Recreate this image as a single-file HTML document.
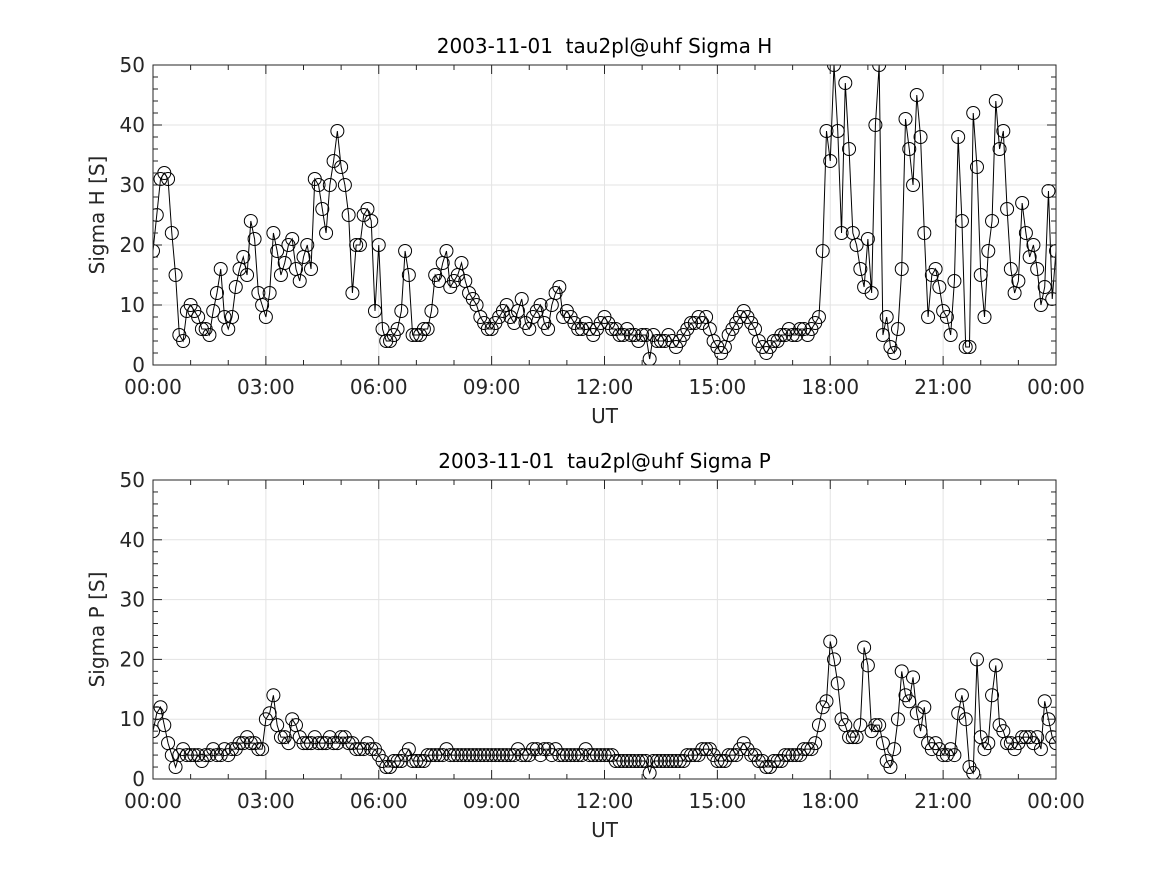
<!DOCTYPE html>
<html><head><meta charset="utf-8">
<style>
html,body{margin:0;padding:0;background:#fff;}
svg{display:block;font-family:"DejaVu Sans","Liberation Sans",sans-serif;}
</style></head>
<body>
<svg id="fig" width="1167" height="875" viewBox="0 0 1167 875" xmlns="http://www.w3.org/2000/svg">
<rect width="1167" height="875" fill="#fff"/>
</svg>
<script>
// Sample spacing: 0.1 hour, 241 samples (00:00 .. 24:00)
const sigmaH = [
19,25,31,32,31,22,15,5,4,9,
10,9,8,6,6,5,9,12,16,8,
6,8,13,16,18,15,24,21,12,10,
8,12,22,19,15,17,20,21,16,14,
18,20,16,31,30,26,22,30,34,39,
33,30,25,12,20,20,25,26,24,9,
20,6,4,4,5,6,9,19,15,5,
5,5,6,6,9,15,14,17,19,13,
14,15,17,14,12,11,10,8,7,6,
6,7,8,9,10,8,7,9,11,7,
6,8,9,10,7,6,10,12,13,8,
9,8,7,6,6,7,6,5,6,7,
8,7,6,6,5,5,6,5,5,4,
5,5,1,5,4,4,4,5,4,3,
4,5,6,7,7,8,7,8,6,4,
3,2,3,5,6,7,8,9,8,7,
6,4,3,2,3,4,4,5,5,6,
5,5,6,6,5,6,7,8,19,39,
34,55,39,22,47,36,22,20,16,13,
21,12,40,55,5,8,3,2,6,16,
41,36,30,45,38,22,8,15,16,13,
9,8,5,14,38,24,3,3,42,33,
15,8,19,24,44,36,39,26,16,12,
14,27,22,18,20,16,10,13,29,11,
19];
const sigmaP = [
8,11,12,9,6,4,2,4,5,4,
4,4,4,3,4,4,5,4,4,5,
4,5,5,6,6,7,6,6,5,5,
10,11,14,9,7,7,6,10,9,7,
6,6,6,7,6,6,6,7,6,6,
7,7,6,6,5,5,5,6,5,5,
4,3,2,2,3,3,3,4,5,3,
3,3,3,4,4,4,4,4,5,4,
4,4,4,4,4,4,4,4,4,4,
4,4,4,4,4,4,4,5,4,4,
4,5,5,4,5,5,4,5,4,4,
4,4,4,4,4,5,4,4,4,4,
4,4,4,3,3,3,3,3,3,3,
3,3,1,3,3,3,3,3,3,3,
3,3,4,4,4,4,5,5,5,4,
3,3,3,4,4,4,5,6,5,4,
4,3,3,2,2,3,3,3,4,4,
4,4,4,5,5,5,6,9,12,13,
23,20,16,10,9,7,7,7,9,22,
19,8,9,9,6,3,2,5,10,18,
14,13,17,11,8,12,6,5,6,5,
4,4,5,4,11,14,10,2,1,20,
7,5,6,14,19,9,8,6,6,5,
6,7,7,7,6,7,5,13,10,7,
6];
const xTickLabels = ["00:00","03:00","06:00","09:00","12:00","15:00","18:00","21:00","00:00"];
const yTickLabels = ["0","10","20","30","40","50"];
const titles = ["2003-11-01\u00a0 tau2pl@uhf Sigma H","2003-11-01\u00a0 tau2pl@uhf Sigma P"];
const yTitles = ["Sigma H [S]","Sigma P [S]"];

const NS = "http://www.w3.org/2000/svg";
const svg = document.getElementById("fig");
function mk(tag, attrs, parent){
  const e = document.createElementNS(NS, tag);
  for (const k in attrs) e.setAttribute(k, attrs[k]);
  (parent||svg).appendChild(e);
  return e;
}
const L = 153, R = 1056;
const panels = [{top:65,bot:365,data:sigmaH,key:"sigma-h"},{top:480,bot:779,data:sigmaP,key:"sigma-p"}];
panels.forEach((p, pi) => {
  const xs = h => L + (R - L) * h / 24;
  const ys = v => p.bot - (p.bot - p.top) * Math.min(v, 50) / 50;
  const g = mk("g", {});
  
  
  const clipId = "clip" + pi;
  const cp = mk("clipPath", {id: clipId}, g);
  mk("rect", {x: L, y: p.top, width: R - L, height: p.bot - p.top}, cp);
  for (let i = 0; i < xTickLabels.length; i++) {
    const x = xs(i * 3);
    const gl = mk("line", {x1:x, x2:x, y1:p.top, y2:p.bot, stroke:"#e3e3e3", "stroke-width":1}, g);
    
    
  }
  for (let i = 0; i < yTickLabels.length; i++) {
    const y = ys(+yTickLabels[i]);
    const gl = mk("line", {x1:L, x2:R, y1:y, y2:y, stroke:"#e3e3e3", "stroke-width":1}, g);
    
    
  }
  const sg = mk("g", {"clip-path": "url(#" + clipId + ")"}, g);
  
  
  let d = "";
  p.data.forEach((v, i) => { d += (i ? "L" : "M") + xs(i * 0.1).toFixed(2) + "," + ys(v).toFixed(2); });
  const line = mk("path", {d: d, fill: "none", stroke: "#000", "stroke-width": 1}, sg);
  
  
  p.data.forEach((v, i) => {
    const c = mk("circle", {cx: xs(i * 0.1).toFixed(2), cy: ys(v).toFixed(2), r: 6.5, fill: "none", stroke: "#000", "stroke-width": 1}, sg);
    
    
  });
  const fr = mk("rect", {x:L, y:p.top, width:R-L, height:p.bot-p.top, fill:"none", stroke:"#262626", "stroke-width":1}, g);
  
  
  for (let h = 0; h <= 24; h++) {
    const x = xs(h), len = (h % 3 === 0) ? 9 : 5;
    mk("line", {x1:x, x2:x, y1:p.bot, y2:p.bot - len, stroke:"#262626"}, g);
    mk("line", {x1:x, x2:x, y1:p.top, y2:p.top + len, stroke:"#262626"}, g);
  }
  for (let v = 0; v <= 50; v += 2) {
    const y = ys(v), len = (v % 10 === 0) ? 9 : 5;
    mk("line", {x1:L, x2:L + len, y1:y, y2:y, stroke:"#262626"}, g);
    mk("line", {x1:R, x2:R - len, y1:y, y2:y, stroke:"#262626"}, g);
  }
  xTickLabels.forEach((t, i) => {
    const tx = mk("text", {x: xs(i * 3), y: p.bot + 29, "text-anchor": "middle", "font-size": 20, fill: "#262626"}, g);
    tx.textContent = t;
    
    
  });
  yTickLabels.forEach(t => {
    const tx = mk("text", {x: L - 8, y: ys(+t) + 7, "text-anchor": "end", "font-size": 20, fill: "#262626"}, g);
    tx.textContent = t;
    
    
  });
  const xt = mk("text", {x: (L + R) / 2, y: p.bot + 58, "text-anchor": "middle", "font-size": 20, fill: "#262626"}, g);
  xt.textContent = "UT";
  
  
  const yc = (p.top + p.bot) / 2;
  const yt = mk("text", {x: 104, y: yc, "text-anchor": "middle", "font-size": 20, fill: "#262626", transform: "rotate(-90 104 " + yc + ")"}, g);
  yt.textContent = yTitles[pi];
  
  
  const tt = mk("text", {x: (L + R) / 2, y: p.top - 12, "text-anchor": "middle", "font-size": 20, fill: "#000"}, g);
  tt.textContent = titles[pi];
  
  
});
</script>
</body></html>
